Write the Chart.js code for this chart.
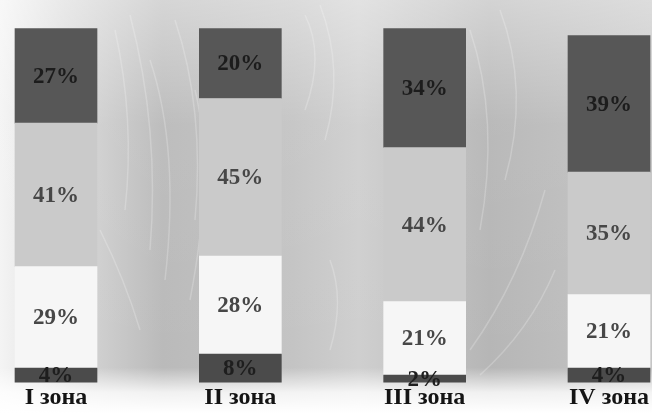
<!DOCTYPE html>
<html lang="uk">
<head>
    <meta charset="UTF-8">
    <title>Зони</title>
    <script src="https://cdn.jsdelivr.net/npm/chart.js"></script>
    <style type="text/css">
        html, body {
            margin: 0;
            padding: 0;
            background: #ffffff;
        }

        #wrap {
            width: 652px;
            height: 413px;
            position: relative;
        }
    </style>
</head>
<body>
<div id="wrap">
    <canvas id="myChart" width="652" height="413"></canvas>
</div>

<script>
  // values (percent)
  var zones = ['I зона', 'II зона', 'III зона', 'IV зона'];
  var bottomShare = [4, 8, 2, 4];
  var whiteShare = [29, 28, 21, 21];
  var greyShare = [41, 45, 44, 35];
  var topShare = [27, 20, 34, 39];

  var serif = '"Liberation Serif", "DejaVu Serif", serif';

  // photo-like grey backdrop with faint light streaks
  var backdrop = {
    id: 'backdrop',
    beforeDraw: function (chart) {
      var c = chart.ctx;
      var w = chart.width, h = chart.height;
      c.save();
      var g = c.createLinearGradient(0, 0, w, 0);
      g.addColorStop(0, '#f4f4f4');
      g.addColorStop(0.1, '#dadada');
      g.addColorStop(0.25, '#bababa');
      g.addColorStop(0.45, '#c4c4c4');
      g.addColorStop(0.55, '#cfcfcf');
      g.addColorStop(0.75, '#b6b6b6');
      g.addColorStop(1, '#c6c6c6');
      c.fillStyle = g;
      c.fillRect(0, 0, w, h);

      var v = c.createLinearGradient(0, 0, 0, h);
      v.addColorStop(0, 'rgba(255,255,255,0.4)');
      v.addColorStop(0.3, 'rgba(255,255,255,0.05)');
      v.addColorStop(0.89, 'rgba(255,255,255,0)');
      v.addColorStop(0.95, 'rgba(255,255,255,0.8)');
      v.addColorStop(1, 'rgba(255,255,255,1)');
      c.fillStyle = v;
      c.fillRect(0, 0, w, h);

      c.strokeStyle = 'rgba(255,255,255,0.22)';
      c.lineWidth = 1.5;
      var streaks = [
        [115, 30, 135, 120, 125, 210], [130, 15, 160, 130, 150, 250],
        [150, 60, 180, 150, 165, 280], [175, 20, 205, 110, 195, 220],
        [195, 90, 215, 170, 190, 300], [305, 15, 325, 55, 305, 110],
        [320, 5, 345, 70, 325, 140], [470, 30, 500, 120, 480, 230],
        [500, 10, 530, 90, 505, 180], [545, 190, 520, 280, 470, 350],
        [555, 270, 530, 330, 480, 375], [330, 260, 345, 300, 330, 350],
        [100, 230, 125, 280, 140, 330]
      ];
      for (var s of streaks) {
        c.beginPath();
        c.moveTo(s[0], s[1]);
        c.quadraticCurveTo(s[2], s[3], s[4], s[5]);
        c.stroke();
      }
      c.restore();
    }
  };

  // percent labels inside the segments
  var segmentLabels = {
    id: 'segmentLabels',
    afterDatasetsDraw: function (chart) {
      var c = chart.ctx;
      c.save();
      c.font = 'bold 23px ' + serif;
      c.textAlign = 'center';
      c.textBaseline = 'middle';
      chart.data.datasets.forEach(function (ds, i) {
        var meta = chart.getDatasetMeta(i);
        meta.data.forEach(function (bar, j) {
          var y = (bar.y + bar.base) / 2;
          c.fillStyle = ds.labelColor;
          c.fillText(ds.data[j] + '%', bar.x, y + 1);
        });
      });
      c.restore();
    }
  };

  var ctx = document.getElementById('myChart').getContext('2d');

  var myChart = new Chart(ctx, {
    type: 'bar',
    data: {
      labels: zones,
      datasets: [
        {data: bottomShare, backgroundColor: '#4b4b4b', labelColor: '#1e1e1e'},
        {data: whiteShare, backgroundColor: '#f6f6f6', labelColor: '#474747'},
        {data: greyShare, backgroundColor: '#cacaca', labelColor: '#474747'},
        {data: topShare, backgroundColor: '#575757', labelColor: '#1c1c1c'}
      ]
    },
    options: {
      responsive: false,
      animation: false,
      datasets: {
        bar: {
          barThickness: 82,
          borderWidth: 0,
          clip: false
        }
      },
      layout: {
        padding: {left: 56, right: 43, top: 18, bottom: 0}
      },
      plugins: {
        legend: {display: false},
        tooltip: {enabled: false}
      },
      scales: {
        x: {
          stacked: true,
          offset: false,
          grid: {display: false, drawTicks: false},
          border: {display: false},
          ticks: {
            color: '#141414',
            padding: 1,
            maxRotation: 0,
            autoSkip: false,
            font: {family: serif, size: 24, weight: 'bold'}
          }
        },
        y: {
          stacked: true,
          display: false,
          min: 0,
          max: 104
        }
      }
    },
    plugins: [backdrop, segmentLabels]
  });
</script>
</body>
</html>
